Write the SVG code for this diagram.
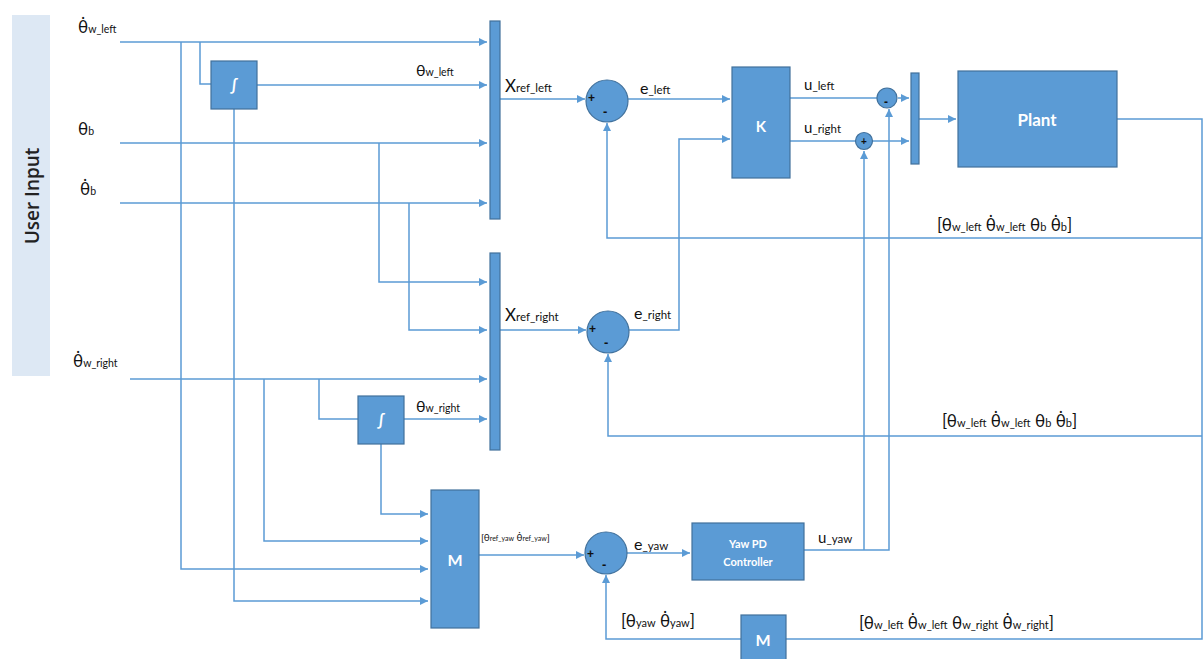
<svg xmlns="http://www.w3.org/2000/svg" width="1204" height="659" viewBox="0 0 1204 659">
<style>
.ln{fill:none;stroke:#5b9bd5;stroke-width:1.5}
.bx{fill:#5b9bd5;stroke:#41719c;stroke-width:1.2}
.t{font-family:Lato,"Noto Sans","DejaVu Sans",sans-serif;fill:#111111}
.w{font-family:Lato,"Noto Sans",sans-serif;fill:#ffffff;font-weight:bold}
.pm{font-family:"Liberation Sans",sans-serif;fill:#111111;font-weight:bold}
</style>
<defs>
<marker id="a" viewBox="0 0 10 10" refX="10" refY="5" markerWidth="9" markerHeight="8" markerUnits="userSpaceOnUse" orient="auto"><path d="M0,0 L10,5 L0,10 z" fill="#5b9bd5"/></marker>
</defs>
<rect x="12" y="15" width="38" height="361" fill="#dde8f4"/>
<text x="39" y="196" font-family="'Open Sans','Noto Sans',sans-serif" font-weight="600" font-size="19" text-anchor="middle" transform="rotate(-90 39 196)" fill="#222222">User Input</text>

<g id="connectors">
<path class="ln" d="M120,42 H487" marker-end="url(#a)"/>
<path class="ln" d="M200,42 V84 H211"/>
<path class="ln" d="M181,42 V569 H428" marker-end="url(#a)"/>
<path class="ln" d="M257,85 H487" marker-end="url(#a)"/>
<path class="ln" d="M234,109 V601 H428" marker-end="url(#a)"/>
<path class="ln" d="M120,143 H487" marker-end="url(#a)"/>
<path class="ln" d="M379,143 V282 H487" marker-end="url(#a)"/>
<path class="ln" d="M120,203 H487" marker-end="url(#a)"/>
<path class="ln" d="M409,203 V330 H487" marker-end="url(#a)"/>
<path class="ln" d="M130,379 H487" marker-end="url(#a)"/>
<path class="ln" d="M264,379 V541 H428" marker-end="url(#a)"/>
<path class="ln" d="M319,379 V419 H358"/>
<path class="ln" d="M404,419 H487" marker-end="url(#a)"/>
<path class="ln" d="M381,444 V514 H428" marker-end="url(#a)"/>
<path class="ln" d="M500,99 H585" marker-end="url(#a)"/>
<path class="ln" d="M628,99 H730" marker-end="url(#a)"/>
<path class="ln" d="M500,330 H586" marker-end="url(#a)"/>
<path class="ln" d="M629,330 H679 V139 H730" marker-end="url(#a)"/>
<path class="ln" d="M790,98 H877"/>
<path class="ln" d="M898,98 H909" marker-end="url(#a)"/>
<path class="ln" d="M790,141 H855"/>
<path class="ln" d="M873,141 H909" marker-end="url(#a)"/>
<path class="ln" d="M919,119 H956" marker-end="url(#a)"/>
<path class="ln" d="M1117,119 H1202 V639 H786"/>
<path class="ln" d="M1202,238 H607 V123" marker-end="url(#a)"/>
<path class="ln" d="M1202,436 H608 V354" marker-end="url(#a)"/>
<path class="ln" d="M741,639 H606 V575" marker-end="url(#a)"/>
<path class="ln" d="M479,555 H584" marker-end="url(#a)"/>
<path class="ln" d="M627,553 H690" marker-end="url(#a)"/>
<path class="ln" d="M804,550 H889 V109" marker-end="url(#a)"/>
<path class="ln" d="M864,550 V151" marker-end="url(#a)"/>
</g>

<g id="int1"><rect class="bx" x="211" y="61" width="46" height="48"/><text class="w" x="234" y="91" font-size="16" font-weight="normal" text-anchor="middle">∫</text></g>
<g id="int2"><rect class="bx" x="358" y="396" width="46" height="48"/><text class="w" x="381" y="426" font-size="16" font-weight="normal" text-anchor="middle">∫</text></g>
<g id="mux1"><rect class="bx" x="490" y="21" width="10" height="198"/></g>
<g id="mux2"><rect class="bx" x="490" y="253" width="10" height="197"/></g>
<g id="mux3"><rect class="bx" x="911" y="73" width="8" height="91"/></g>
<g id="sum1"><circle class="bx" cx="607" cy="101" r="21"/><text class="pm" x="588" y="102" font-size="12">+</text><text class="pm" x="603" y="116" font-size="13">-</text></g>
<g id="sum2"><circle class="bx" cx="608" cy="332" r="21"/><text class="pm" x="589" y="333" font-size="12">+</text><text class="pm" x="604" y="347" font-size="13">-</text></g>
<g id="sum3"><circle class="bx" cx="606" cy="553" r="21"/><text class="pm" x="587" y="558" font-size="12">+</text><text class="pm" x="602" y="569" font-size="13">-</text></g>
<g id="K"><rect class="bx" x="732" y="67" width="58" height="111"/><text class="w" x="761" y="132" font-size="15" text-anchor="middle">K</text></g>
<g id="subL"><circle class="bx" cx="887" cy="98" r="10"/><text class="pm" x="884" y="106" font-size="12">-</text></g>
<g id="addR"><circle class="bx" cx="864" cy="141" r="8.5"/><text class="pm" x="864" y="145" font-size="10" text-anchor="middle">+</text></g>
<g id="plant"><rect class="bx" x="958" y="71" width="159" height="96"/><text class="w" x="1037" y="126" font-size="17" text-anchor="middle">Plant</text></g>
<g id="M1"><rect class="bx" x="431" y="490" width="48" height="138"/><text class="w" x="455" y="566" font-size="16" text-anchor="middle">M</text></g>
<g id="yaw"><rect class="bx" x="692" y="523" width="112" height="57"/><text class="w" x="748" y="548" font-size="11" text-anchor="middle">Yaw PD</text><text class="w" x="748" y="566" font-size="11" text-anchor="middle">Controller</text></g>
<g id="M2"><rect class="bx" x="741" y="615" width="45" height="50"/><text class="w" x="763" y="646" font-size="16" text-anchor="middle">M</text></g>

<g id="labels">
<text class="t" x="78" y="33" font-size="17">θ̇<tspan font-size="10.5">w_left</tspan></text>
<text class="t" x="78" y="135" font-size="17">θ<tspan font-size="10.5">b</tspan></text>
<text class="t" x="80" y="195" font-size="17">θ̇<tspan font-size="10.5">b</tspan></text>
<text class="t" x="73" y="367" font-size="17">θ̇<tspan font-size="10.5">w_right</tspan></text>
<text class="t" x="416" y="76" font-size="16">θ<tspan font-size="10.5">w_left</tspan></text>
<text class="t" x="416" y="412" font-size="16">θ<tspan font-size="10.5">w_right</tspan></text>
<text class="t" x="505" y="92" font-size="17">X<tspan font-size="11.5">ref_left</tspan></text>
<text class="t" x="505" y="321" font-size="17">X<tspan font-size="11.5">ref_right</tspan></text>
<text class="t" x="640" y="94" font-size="16">e<tspan font-size="11.5">_left</tspan></text>
<text class="t" x="634" y="319" font-size="16">e<tspan font-size="11.5">_right</tspan></text>
<text class="t" x="634" y="550" font-size="16">e<tspan font-size="11.5">_yaw</tspan></text>
<text class="t" x="804" y="90" font-size="15">u<tspan font-size="11.5">_left</tspan></text>
<text class="t" x="804" y="133" font-size="15">u<tspan font-size="11.5">_right</tspan></text>
<text class="t" x="818" y="543" font-size="15">u<tspan font-size="11.5">_yaw</tspan></text>
<text class="t" x="937" y="231" font-size="17">[θ<tspan font-size="11">w_left</tspan> θ̇<tspan font-size="11">w_left</tspan> θ<tspan font-size="11">b</tspan> θ̇<tspan font-size="11">b</tspan>]</text>
<text class="t" x="942" y="427" font-size="17">[θ<tspan font-size="11">w_left</tspan> θ̇<tspan font-size="11">w_left</tspan> θ<tspan font-size="11">b</tspan> θ̇<tspan font-size="11">b</tspan>]</text>
<text class="t" x="621" y="627" font-size="17">[θ<tspan font-size="11">yaw</tspan> θ̇<tspan font-size="11">yaw</tspan>]</text>
<text class="t" x="859" y="629" font-size="17">[θ<tspan font-size="11">w_left</tspan> θ̇<tspan font-size="11">w_left</tspan> θ<tspan font-size="11">w_right</tspan> θ̇<tspan font-size="11">w_right</tspan>]</text>
<text class="t" x="481" y="541" font-size="10">[θ<tspan font-size="7">ref_yaw</tspan> θ̇<tspan font-size="7">ref_yaw</tspan>]</text>
</g>
</svg>
